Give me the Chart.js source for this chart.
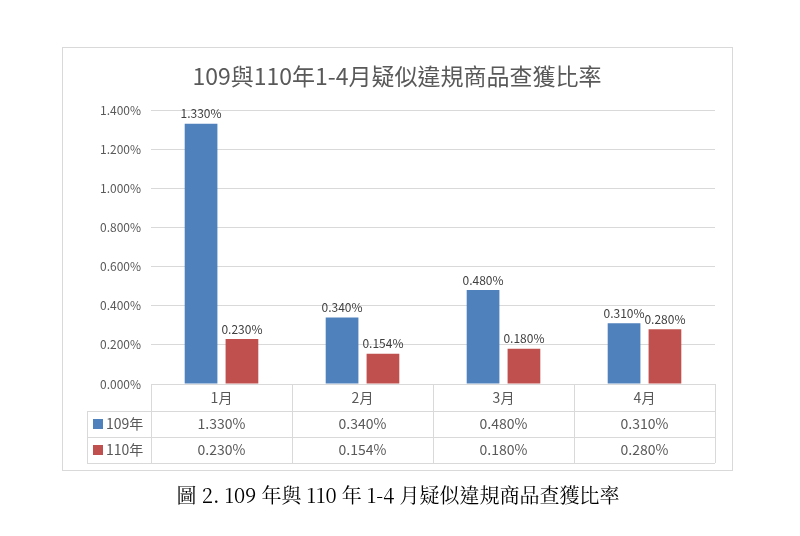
<!DOCTYPE html>
<html><head><meta charset="utf-8">
<script src="https://cdn.jsdelivr.net/npm/chart.js@4"></script>
<style>html,body{margin:0;background:#fff}#c{display:block}</style>
</head><body>
<div style="width:800px;height:536px"><canvas id="c"></canvas></div>
<script>
// 資料
const meses = ['1月', '2月', '3月', '4月'];
const serie109 = [1.330, 0.340, 0.480, 0.310];
const serie110 = [0.230, 0.154, 0.180, 0.280];
const nombres = ['109年', '110年'];
const colores = ['#4F81BD', '#C0504D'];
const yTicks = [0, 0.2, 0.4, 0.6, 0.8, 1.0, 1.2, 1.4];

const fmt = v => v.toFixed(3) + '%';
const fuente = '"Noto Sans CJK TC", "Open Sans", sans-serif';

const tablaPlugin = {
  id: 'tabla',
  afterDraw(chart){
    const ctx = chart.ctx;
    const x = chart.scales.x, a = chart.chartArea;
    ctx.save();
    // marco exterior
    ctx.strokeStyle = '#d9d9d9'; ctx.lineWidth = 1;
    ctx.strokeRect(62.5, 47.5, 670, 423);
    // título
    ctx.fillStyle = '#595959'; ctx.textAlign = 'center'; ctx.textBaseline = 'middle';
    ctx.font = '23px ' + fuente;
    ctx.fillText('109與110年1-4月疑似違規商品查獲比率', 397, 76);
    // etiquetas de datos
    ctx.font = '12px ' + fuente; ctx.fillStyle = '#404040';
    chart.data.datasets.forEach((ds, i) => {
      chart.getDatasetMeta(i).data.forEach((b, j) => {
        ctx.fillText(fmt(ds.data[j]), b.x, b.y - 10);
      });
    });
    // tabla
    const rowH = [384, 411, 437, 463];
    const left = 87, l2 = a.left, right = a.right;
    ctx.strokeStyle = '#d9d9d9';
    ctx.beginPath();
    ctx.moveTo(l2, rowH[0] + .5); ctx.lineTo(right, rowH[0] + .5);
    for(let r = 1; r < 4; r++){ ctx.moveTo(left, rowH[r] + .5); ctx.lineTo(right, rowH[r] + .5); }
    ctx.moveTo(left + .5, rowH[1]); ctx.lineTo(left + .5, rowH[3]);
    const step = (right - l2) / meses.length;
    for(let k = 0; k <= meses.length; k++){
      const xx = Math.round(l2 + k * step) + .5;
      ctx.moveTo(xx, rowH[0]); ctx.lineTo(xx, rowH[3]);
    }
    ctx.stroke();
    ctx.font = '14px ' + fuente; ctx.fillStyle = '#595959';
    meses.forEach((m, k) => {
      const cx = x.getPixelForValue(k);
      ctx.fillText(m, cx, (rowH[0] + rowH[1]) / 2);
      ctx.fillText(fmt(serie109[k]), cx, (rowH[1] + rowH[2]) / 2);
      ctx.fillText(fmt(serie110[k]), cx, (rowH[2] + rowH[3]) / 2);
    });
    ctx.textAlign = 'left';
    nombres.forEach((n, i) => {
      const cy = (rowH[i + 1] + rowH[i + 2]) / 2;
      ctx.fillStyle = colores[i];
      ctx.fillRect(93, cy - 5, 10, 10);
      ctx.fillStyle = '#595959';
      ctx.fillText(n, 106, cy);
    });
    // leyenda del gráfico
    ctx.textAlign = 'center'; ctx.fillStyle = '#000';
    ctx.font = '20px "Noto Serif CJK TC", "DejaVu Serif", serif';
    ctx.fillText('圖 2. 109 年與 110 年 1-4 月疑似違規商品查獲比率', 398, 495);
    ctx.restore();
  }
};

new Chart(document.getElementById('c'), {
  type: 'bar',
  data: {
    labels: meses,
    datasets: [
      { label: nombres[0], data: serie109, backgroundColor: colores[0] },
      { label: nombres[1], data: serie110, backgroundColor: colores[1] }
    ]
  },
  options: {
    responsive: true, maintainAspectRatio: false, animation: false,
    layout: { padding: { left: 62, right: 85, top: 110, bottom: 152 } },
    datasets: { bar: { categoryPercentage: 0.58, barPercentage: 0.8 } },
    plugins: { legend: { display: false }, tooltip: { enabled: false } },
    scales: {
      x: {
        ticks: { display: false },
        grid: { display: false },
        border: { color: '#d9d9d9' },
        afterFit: s => { s.height = 0; }
      },
      y: {
        min: 0, max: 1.4,
        afterBuildTicks: s => { s.ticks = yTicks.map(v => ({ value: v })); },
        afterFit: s => { s.width = 89; },
        ticks: { callback: v => fmt(v), color: '#595959', font: { size: 12, family: fuente }, padding: 10 },
        grid: { color: '#d9d9d9', drawTicks: false },
        border: { display: false }
      }
    }
  },
  plugins: [tablaPlugin]
});
</script>
</body></html>
